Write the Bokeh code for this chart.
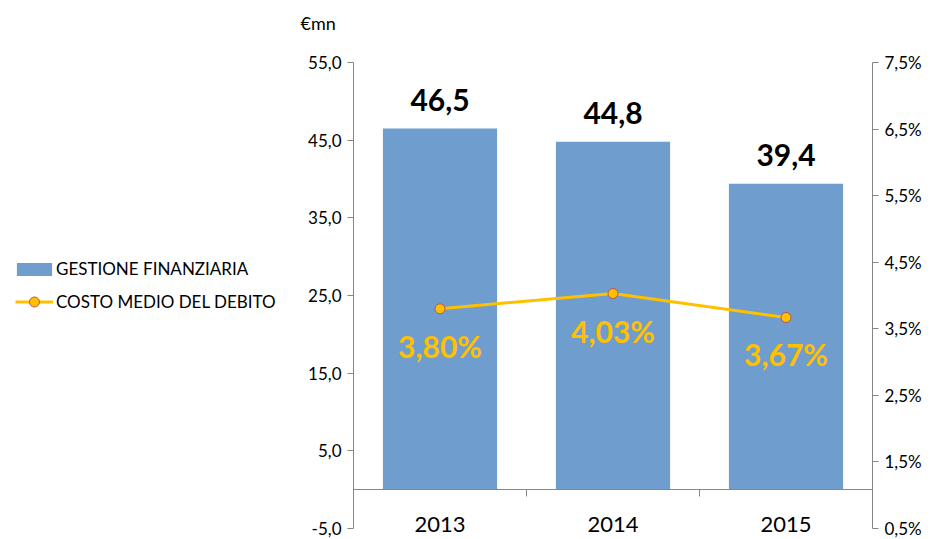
from bokeh.plotting import figure
from bokeh.layouts import row, column
from bokeh.models import (ColumnDataSource, Range1d, LinearAxis, FixedTicker,
                          CustomJSTickFormatter, Legend, LegendItem, Label)
from bokeh.core.properties import value
from bokeh.embed import file_html
from bokeh.resources import INLINE

# ---- data ----
categories = ["2013", "2014", "2015"]
gestione_finanziaria = [46.5, 44.8, 39.4]      # €mn (left axis)
costo_medio_debito = [3.80, 4.03, 3.67]        # % (right axis)
left_ticks = [-5, 5, 15, 25, 35, 45, 55]
right_ticks = [0.5, 1.5, 2.5, 3.5, 4.5, 5.5, 6.5, 7.5]
series_names = ["GESTIONE FINANZIARIA", "COSTO MEDIO DEL DEBITO"]
unit_label = "€mn"

FONT = "Lato"
BAR = "#6F9DCE"
GOLD = "#FFC000"
MARK_EDGE = "#C0504D"
AXIS = "#868686"

xpos = [i + 0.5 for i in range(len(categories))]
src = ColumnDataSource(dict(
    x=xpos, cat=categories, val=gestione_finanziaria, pct=costo_medio_debito,
    val_lbl=[f"{v:.1f}".replace(".", ",") for v in gestione_finanziaria],
    pct_lbl=[f"{v:.2f}%".replace(".", ",") for v in costo_medio_debito],
))

TOTAL_W, TOTAL_H = 936, 539
STRIP_H = 40
LEFT_W = 300
MAIN_H = TOTAL_H - STRIP_H
AXIS_PX = 466      # pixel height of the axis span (-5 .. 55)
EXTRA_PX = 11      # frame space below the axis span (room for category labels)

l_lo, l_hi = left_ticks[0], left_ticks[-1]
r_lo, r_hi = right_ticks[0], right_ticks[-1]
l_pad = EXTRA_PX * (l_hi - l_lo) / AXIS_PX
r_pad = EXTRA_PX * (r_hi - r_lo) / AXIS_PX

def bare(fig):
    fig.outline_line_color = None
    fig.xgrid.visible = False
    fig.ygrid.visible = False

# ---------------- top strip (unit label) ----------------
strip = figure(width=TOTAL_W, height=STRIP_H, output_backend="svg", toolbar_location=None,
               x_range=Range1d(0, 1), y_range=Range1d(0, 1),
               x_axis_location=None, y_axis_location=None,
               min_border_left=0, min_border_right=0, min_border_top=0, min_border_bottom=0)
bare(strip)
strip.add_layout(Label(x=300, y=18, x_units="screen", y_units="screen", text=unit_label,
                       text_font=FONT, text_font_size="18px", text_baseline="middle",
                       text_color="#000000"))

# ---------------- main chart ----------------
p = figure(width=TOTAL_W - LEFT_W, height=MAIN_H, output_backend="svg", toolbar_location=None,
           x_range=Range1d(0, len(categories)), y_range=Range1d(l_lo - l_pad, l_hi),
           x_axis_location=None, y_axis_location=None,
           min_border_left=53, min_border_right=64, min_border_top=62 - STRIP_H,
           min_border_bottom=0)
bare(p)
p.extra_y_ranges = {"pct": Range1d(r_lo - r_pad, r_hi)}

def style_axis(ax, size="17px"):
    ax.axis_line_color = AXIS
    ax.major_tick_line_color = AXIS
    ax.minor_tick_line_color = None
    ax.major_tick_in = 0
    ax.major_tick_out = 6
    ax.major_label_text_font = FONT
    ax.major_label_text_font_size = size
    ax.major_label_text_color = "#000000"

left = LinearAxis(ticker=FixedTicker(ticks=left_ticks), bounds=(l_lo, l_hi),
                  formatter=CustomJSTickFormatter(code="return tick.toFixed(1).replace('.', ',')"))
style_axis(left)
left.major_label_standoff = 6
p.add_layout(left, "left")

right = LinearAxis(y_range_name="pct", ticker=FixedTicker(ticks=right_ticks), bounds=(r_lo, r_hi),
                   formatter=CustomJSTickFormatter(code="return tick.toFixed(1).replace('.', ',') + '%'"))
style_axis(right)
right.major_label_standoff = 6
p.add_layout(right, "right")

xax = LinearAxis(fixed_location=0,
                 ticker=FixedTicker(ticks=xpos, minor_ticks=[1, 2]),
                 major_label_overrides={x: c for x, c in zip(xpos, categories)})
style_axis(xax, "22px")
xax.major_tick_line_color = None
xax.major_tick_out = 0
xax.minor_tick_line_color = AXIS
xax.minor_tick_in = 0
xax.minor_tick_out = 7
xax.major_label_standoff = 20
p.add_layout(xax, "below")

p.vbar(x="x", top="val", width=0.66, bottom=0, source=src, fill_color=BAR, line_color=None)
p.line(x="x", y="pct", source=src, y_range_name="pct", line_color=GOLD, line_width=3)
p.scatter(x="x", y="pct", source=src, y_range_name="pct", size=10,
          fill_color=GOLD, line_color=MARK_EDGE, line_width=1)

p.text(x="x", y="val", text="val_lbl", source=src, text_align="center",
       text_baseline="alphabetic", y_offset=-29, text_font=value(FONT),
       text_font_style="bold", text_font_size="30px", text_color="#000000")
p.text(x="x", y="pct", text="pct_lbl", source=src, y_range_name="pct",
       text_align="center", text_baseline="middle", y_offset=37,
       text_font=value(FONT), text_font_style="bold", text_font_size="30px",
       text_color=GOLD)

# ---------------- legend panel ----------------
lp = figure(width=LEFT_W, height=MAIN_H, output_backend="svg", toolbar_location=None,
            x_range=Range1d(0, 1), y_range=Range1d(0, 1),
            x_axis_location=None, y_axis_location=None,
            min_border_left=0, min_border_right=0, min_border_top=0, min_border_bottom=0)
bare(lp)
lb = lp.vbar(x="x", top="val", width=0.66, source=src, fill_color=BAR, line_color=None, visible=False)
ll = lp.line(x="x", y="pct", source=src, line_color=GOLD, line_width=3, visible=False)
ls = lp.scatter(x="x", y="pct", source=src, size=10, fill_color=GOLD,
                line_color=MARK_EDGE, line_width=1, visible=False)

leg1 = Legend(items=[LegendItem(label=series_names[0], renderers=[lb])],
              location=(12, 260), glyph_width=44, glyph_height=16, label_height=16,
              label_standoff=0)
leg2 = Legend(items=[LegendItem(label=series_names[1], renderers=[ll, ls])],
              location=(15, 225), glyph_width=38, glyph_height=25, label_height=16,
              label_standoff=3)
for lg in (leg1, leg2):
    lg.padding = 0
    lg.margin = 0
    lg.border_line_color = None
    lg.background_fill_alpha = 0
    lg.inactive_fill_alpha = 0
    lg.click_policy = "none"
    lg.label_text_font = FONT
    lg.label_text_font_size = "17px"
    lg.label_text_color = "#000000"
    lp.add_layout(lg)

layout = column(strip, row(lp, p))
open("out.html", "w").write(file_html(layout, INLINE))
